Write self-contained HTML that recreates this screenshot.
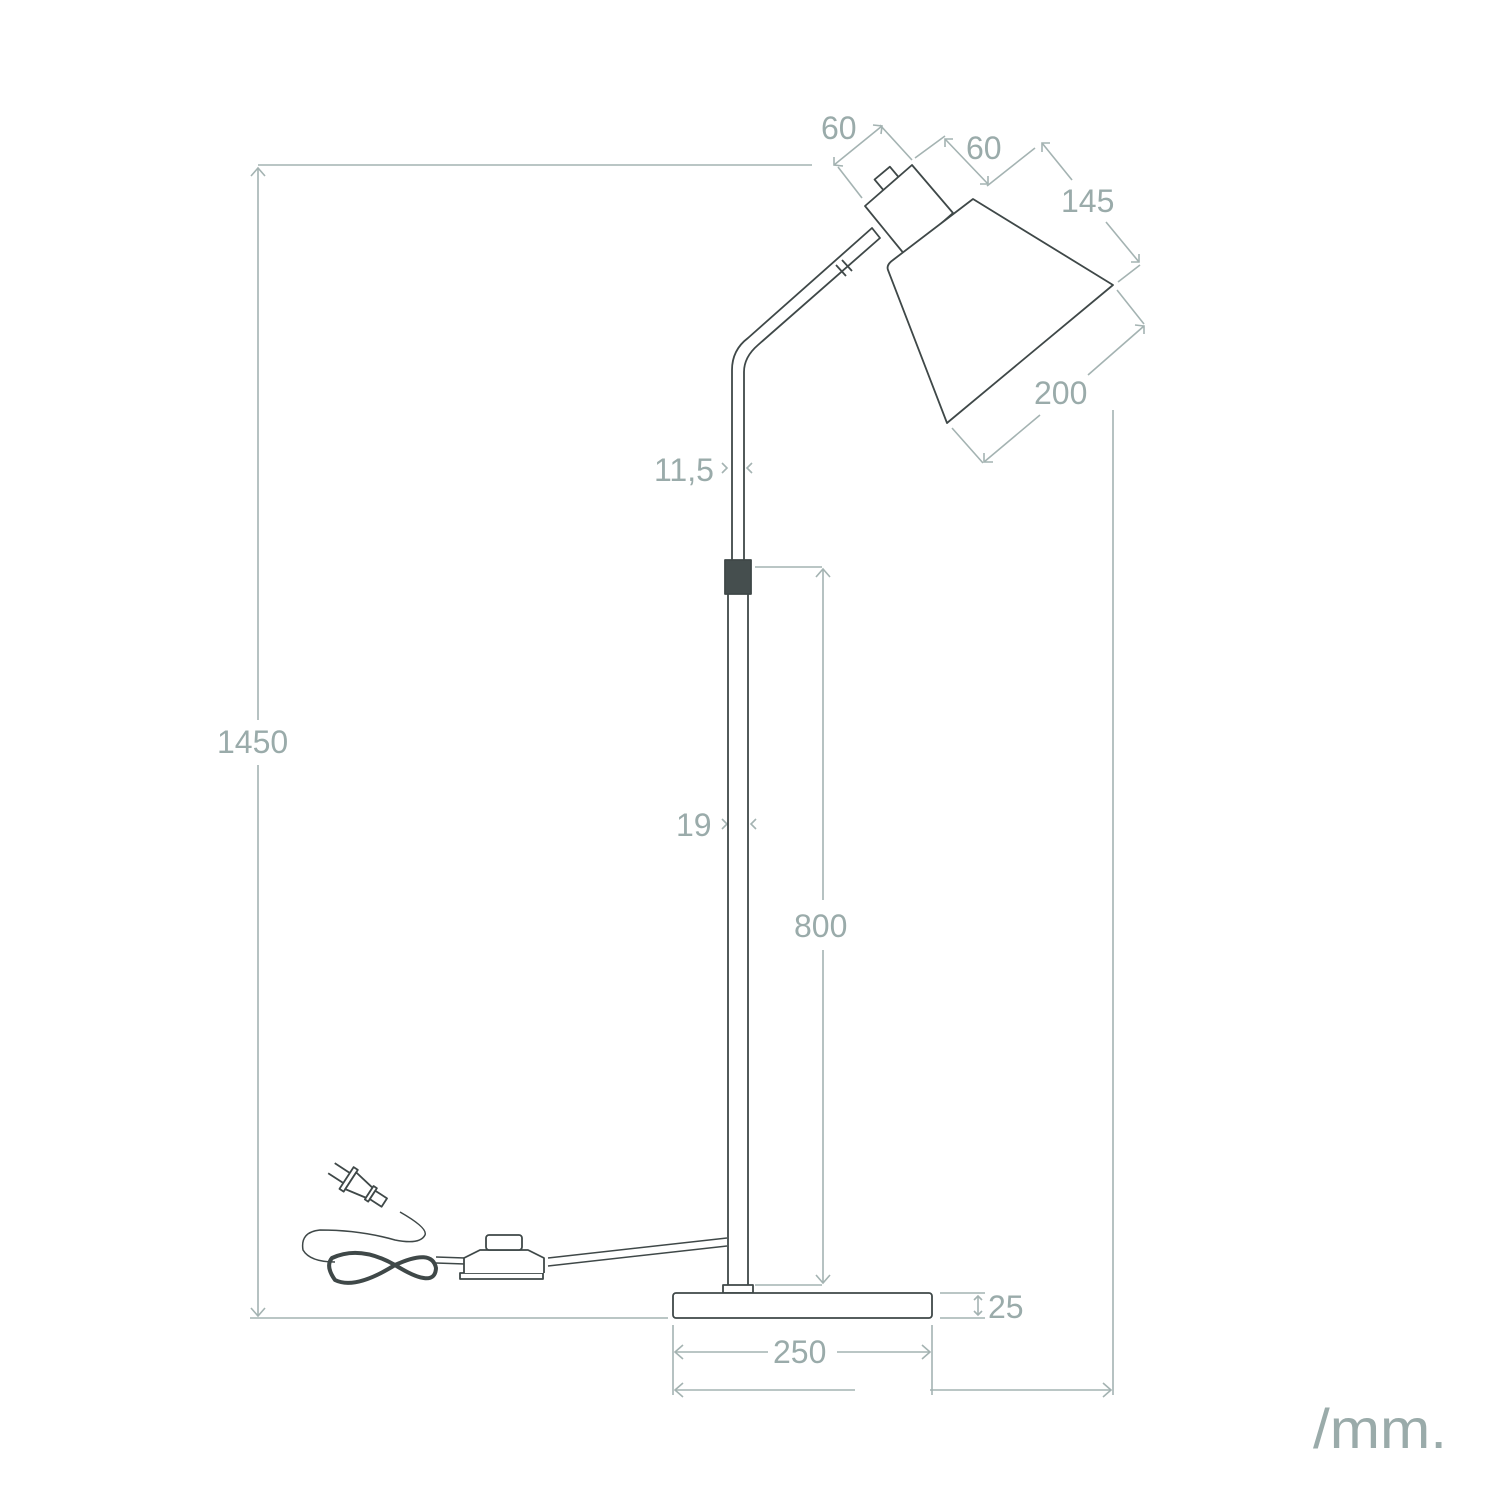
<!DOCTYPE html>
<html><head><style>body{margin:0;background:#fff}svg{display:block}</style></head><body>
<svg width="1500" height="1500" viewBox="0 0 1500 1500" xmlns="http://www.w3.org/2000/svg">
<g fill="none" stroke="#a4b3b2" stroke-width="1.6">
<line x1="258" y1="165" x2="812" y2="165"/>
<line x1="250" y1="1318" x2="668" y2="1318"/>
<line x1="258" y1="168" x2="258" y2="720"/>
<line x1="258" y1="765" x2="258" y2="1316"/>
<polyline points="251,176 258,168 265,176"/><polyline points="251,1308 258,1316 265,1308"/>
<line x1="1113" y1="410" x2="1113" y2="1395"/>
<line x1="673" y1="1325" x2="673" y2="1395"/><line x1="932" y1="1325" x2="932" y2="1395"/>
<line x1="675" y1="1390" x2="855" y2="1390"/><line x1="930" y1="1390" x2="1111" y2="1390"/>
<polyline points="683,1383 675,1390 683,1397"/><polyline points="1103,1383 1111,1390 1103,1397"/>
<line x1="675" y1="1352" x2="768" y2="1352"/><line x1="837" y1="1352" x2="930" y2="1352"/>
<polyline points="683,1345 675,1352 683,1359"/><polyline points="922,1345 930,1352 922,1359"/>
<line x1="940" y1="1293" x2="985" y2="1293"/><line x1="940" y1="1318" x2="985" y2="1318"/>
<line x1="978" y1="1296" x2="978" y2="1315"/>
<polyline points="974,1300 978,1296 982,1300"/><polyline points="974,1311 978,1315 982,1311"/>
<line x1="755" y1="567" x2="822" y2="567"/><line x1="755" y1="1285" x2="822" y2="1285"/>
<line x1="823" y1="569" x2="823" y2="900"/><line x1="823" y1="950" x2="823" y2="1283"/>
<polyline points="816,577 823,569 830,577"/><polyline points="816,1275 823,1283 830,1275"/>
<polyline points="722,463 727,468 722,473"/><polyline points="752,463 747,468 752,473"/>
<polyline points="722,819 727,824 722,829"/><polyline points="756,819 751,824 756,829"/>
<line x1="838" y1="167" x2="862" y2="198"/><line x1="880" y1="125" x2="912" y2="160"/>
<line x1="834" y1="165" x2="882" y2="126"/>
<polyline points="834,157 834,165 843,166"/><polyline points="873,125 882,126 881,134"/>
<line x1="915" y1="158" x2="945" y2="136"/><line x1="987" y1="186" x2="1035" y2="148"/>
<line x1="945" y1="139" x2="988" y2="184"/>
<polyline points="945,147 945,139 953,139"/><polyline points="980,184 988,184 988,176"/>
<line x1="1042" y1="143" x2="1072" y2="180"/><line x1="1106" y1="222" x2="1139" y2="262"/>
<line x1="1118" y1="282" x2="1140" y2="265"/>
<polyline points="1042,152 1042,143 1050,143"/><polyline points="1131,262 1139,262 1139,254"/>
<line x1="1117" y1="290" x2="1144" y2="324"/><line x1="952" y1="428" x2="983" y2="463"/>
<line x1="1144" y1="326" x2="1088" y2="375"/><line x1="1040" y1="415" x2="984" y2="462"/>
<polyline points="1135,325 1144,326 1144,334"/><polyline points="984,453 984,462 993,462"/>
</g>
<g fill="#9aabaa" font-family="Liberation Sans, sans-serif" font-size="32">
<text x="217" y="753">1450</text>
<text x="794" y="937">800</text>
<text x="773" y="1363">250</text>
<text x="988" y="1318">25</text>
<text x="654" y="481">11,5</text>
<text x="676" y="836">19</text>
<text x="821" y="139">60</text>
<text x="966" y="159">60</text>
<text x="1061" y="212">145</text>
<text x="1034" y="404">200</text>
<text x="1313" y="1448" font-size="56" textLength="134" lengthAdjust="spacingAndGlyphs">/mm.</text>
</g>
<g fill="#fff" stroke="#3f4848" stroke-width="1.8" stroke-linejoin="round">
<path d="M732,565 L732,370 Q732,350 748,338 L872,228 L880,238 L758,345 Q744,357 744,372 L744,565"/>
<line x1="836" y1="265" x2="846" y2="276"/>
<line x1="842" y1="260" x2="852" y2="271"/>
<rect x="725" y="560" width="26" height="34" fill="#454e4e"/>
<rect x="728" y="594" width="20" height="692"/>
<rect x="723" y="1285" width="30" height="8"/>
<rect x="673" y="1293" width="259" height="25" rx="3"/>
<rect x="878" y="171" width="20" height="17" transform="rotate(-40 888 180)"/>
<path d="M912,165 L953,213 L905,255 L865,206 Z"/>
<path d="M973,199 L1113,285 L947,423 L888,270 Q886,265 893,260 Z"/>
<path d="M548,1266 L727,1246 M548,1258 L727,1238" stroke-width="1.5"/>
<path d="M465,1258 L436,1257 M465,1264 L436,1263" stroke-width="1.5"/>
<path d="M460,1273 L543,1273 L543,1279 L460,1279 Z"/>
<path d="M464,1273 L464,1258 L480,1250 L528,1250 L544,1258 L544,1273"/>
<rect x="486" y="1235" width="36" height="15" rx="3"/>
<path d="M400,1212 Q428,1228 425,1235 Q420,1245 395,1240 Q360,1230 320,1230 Q300,1232 303,1250 Q310,1262 335,1262" fill="none" stroke-width="1.5"/>
<path d="M332,1258 Q360,1245 395,1265 Q435,1290 436,1268 Q432,1248 395,1265 Q355,1290 335,1280 Q325,1266 332,1258 Z" fill="none" stroke-width="4"/>
<g transform="translate(365,1190) rotate(33)">
<line x1="-40" y1="-6" x2="-22" y2="-6"/><line x1="-40" y1="6" x2="-22" y2="6"/>
<rect x="-22" y="-13" width="5" height="26"/>
<path d="M-17,-10 L5,-6 L5,6 L-17,10 Z"/>
<rect x="5" y="-8" width="4" height="16"/>
<rect x="9" y="-5" width="14" height="10"/>
</g>
</g>
</svg>
</body></html>
